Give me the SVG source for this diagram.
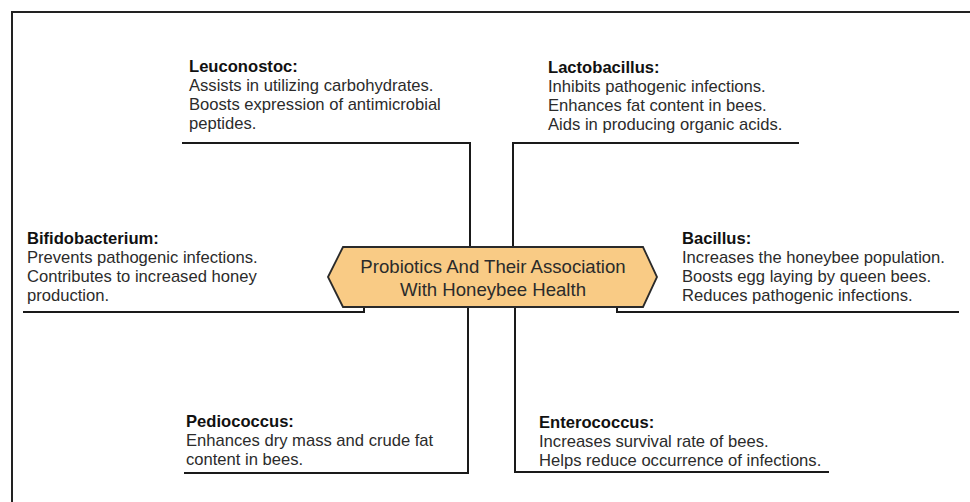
<svg xmlns="http://www.w3.org/2000/svg" width="970" height="502" viewBox="0 0 970 502">
<style>
.t{font-family:"Liberation Sans",Arial,sans-serif;font-size:16.6px;fill:#2b2b2b}
.h{font-weight:bold;fill:#111}
.c{font-family:"Liberation Sans",Arial,sans-serif;font-size:18.6px;fill:#2b2b2b;text-anchor:middle}
.ln{fill:none;stroke:#1a1a1a;stroke-width:2}
</style>
<rect x="0" y="0" width="970" height="502" fill="#fff"/>
<rect x="12" y="12" width="1000" height="520" fill="none" stroke="#222" stroke-width="2"/>
<g id="connectors" class="ln">
<polyline points="182,143 470,143 470,247"/>
<polyline points="799,143 513,143 513,247"/>
<polyline points="23,312 364,312 364,307"/>
<polyline points="959,312 617,312 617,307"/>
<polyline points="184,473 468,473 468,307"/>
<polyline points="829,472 515,472 515,307"/>
</g>
<g id="hub">
<polygon points="328,277 343,247 643,247 657,277 643,307 343,307" fill="#f9cb85" stroke="#2a2a2a" stroke-width="1.8"/>
<text class="c" x="493" y="273">Probiotics And Their Association</text>
<text class="c" x="493" y="296">With Honeybee Health</text>
</g>
<g id="leuconostoc" class="t">
<text x="189" y="72" class="h">Leuconostoc:</text>
<text x="189" y="91">Assists in utilizing carbohydrates.</text>
<text x="189" y="110">Boosts expression of antimicrobial</text>
<text x="189" y="129">peptides.</text>
</g>
<g id="lactobacillus" class="t">
<text x="548" y="73" class="h">Lactobacillus:</text>
<text x="548" y="92">Inhibits pathogenic infections.</text>
<text x="548" y="111">Enhances fat content in bees.</text>
<text x="548" y="130">Aids in producing organic acids.</text>
</g>
<g id="bifidobacterium" class="t">
<text x="27" y="244" class="h">Bifidobacterium:</text>
<text x="27" y="263">Prevents pathogenic infections.</text>
<text x="27" y="282">Contributes to increased honey</text>
<text x="27" y="301">production.</text>
</g>
<g id="bacillus" class="t">
<text x="682" y="244" class="h">Bacillus:</text>
<text x="682" y="263">Increases the honeybee population.</text>
<text x="682" y="282">Boosts egg laying by queen bees.</text>
<text x="682" y="301">Reduces pathogenic infections.</text>
</g>
<g id="pediococcus" class="t">
<text x="186" y="427" class="h">Pediococcus:</text>
<text x="186" y="446">Enhances dry mass and crude fat</text>
<text x="186" y="465">content in bees.</text>
</g>
<g id="enterococcus" class="t">
<text x="539" y="428" class="h">Enterococcus:</text>
<text x="539" y="447">Increases survival rate of bees.</text>
<text x="539" y="466">Helps reduce occurrence of infections.</text>
</g>
</svg>
